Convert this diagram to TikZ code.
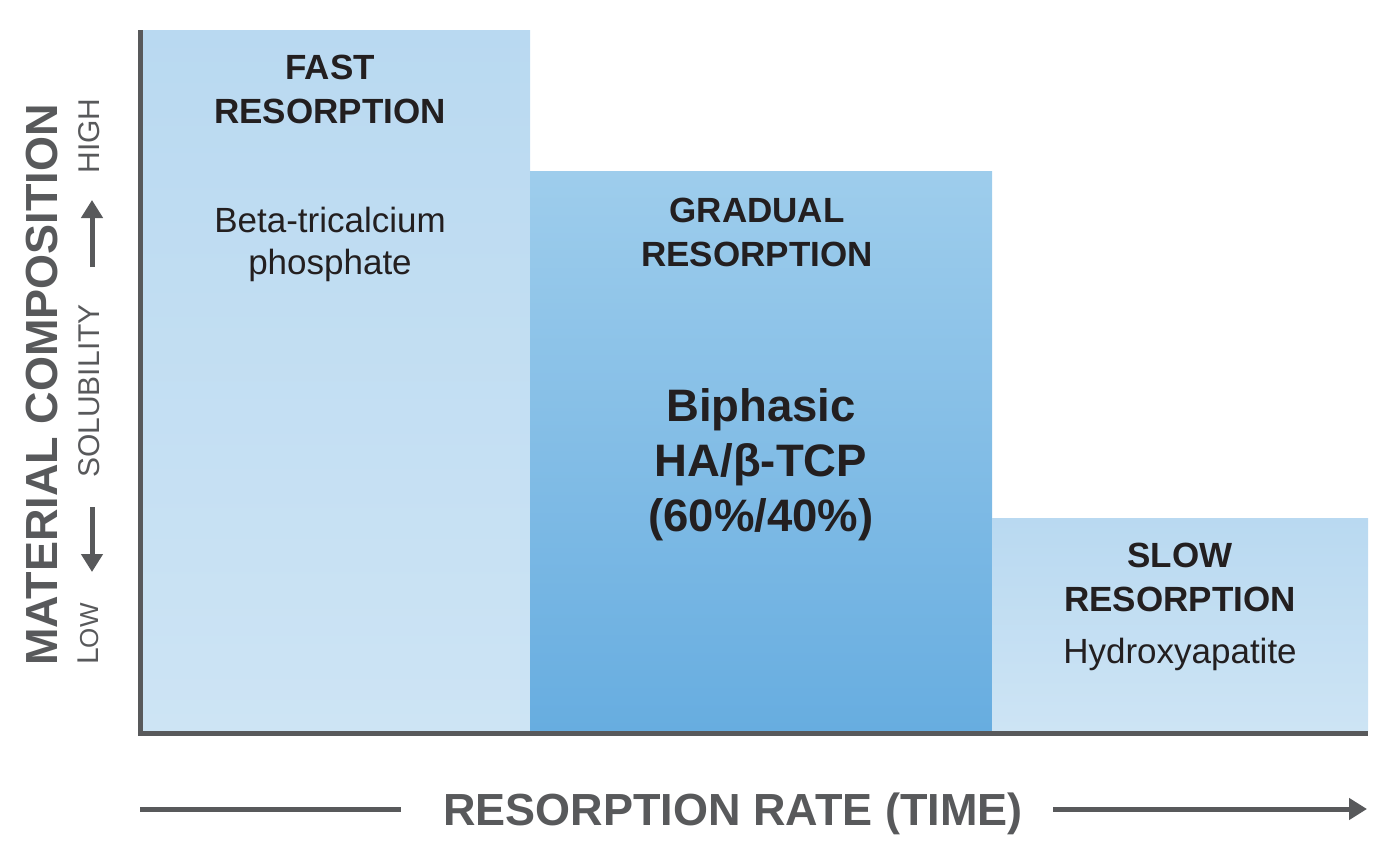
\documentclass[tikz,border=0pt]{standalone}
\usepackage{fontspec}
\setmainfont{Liberation Sans}
\usepackage{tikz}
\usetikzlibrary{arrows.meta}
\definecolor{axisgray}{HTML}{58595B}
\definecolor{inkblack}{HTML}{231F20}
\definecolor{fasttop}{HTML}{B9D9F1}
\definecolor{fastbot}{HTML}{CDE4F4}
\definecolor{gradtop}{HTML}{9ECDEC}
\definecolor{gradbot}{HTML}{67ADE0}
\tikzset{
% Text styles for the three resorption blocks
head text/.style={anchor=north,inner sep=0,align=center,text=inkblack,
  font=\fontsize{17.5}{22}\selectfont\bfseries},
body text/.style={anchor=north,inner sep=0,align=center,text=inkblack,
  font=\fontsize{17.5}{21}\selectfont},
big text/.style={anchor=north,inner sep=0,align=center,text=inkblack,
  font=\fontsize{22.75}{27.5}\selectfont\bfseries},
% Axis styles
axis title/.style={anchor=base,inner sep=0,text=axisgray,
  font=\fontsize{22.5}{27}\selectfont\bfseries},
axis note/.style={anchor=base,inner sep=0,text=axisgray,rotate=90,
  font=\fontsize{15}{18}\selectfont},
axis line/.style={draw=axisgray,line width=2.5pt},
axis arrow/.style={draw=axisgray,line width=2.5pt,
  -{Triangle[length=9pt,width=10.5pt]}}
}

\begin{document}
\begin{tikzpicture}[x=0.5pt,y=-0.5pt]
        \useasboundingbox (0,0) rectangle (1399,851);
        % The blocks
        \shade[top color=fasttop,bottom color=fastbot] (143,30) rectangle (530,731);
        \shade[top color=gradtop,bottom color=gradbot] (530,171) rectangle (992,731);
        \shade[top color=fasttop,bottom color=fastbot] (992,518) rectangle (1368,731);
        % Axes
        \draw[axis line] (140,30) -- (140,733) -- (1368,733);
        % Block texts
        \node(fast)[head text] at (330,55) {FAST\\RESORPTION};
        \node(beta)[body text] at (330,207) {Beta-tricalcium\\phosphate};
        \node(gradual)[head text] at (757,198) {GRADUAL\\RESORPTION};
        \node(biphasic)[big text] at (761,388) {Biphasic\\HA/β-TCP\\(60\%/40\%)};
        \node(slow)[head text] at (1180,543) {SLOW\\RESORPTION};
        \node(hydroxy)[body text] at (1180,638) {Hydroxyapatite};
        % Vertical axis labels
        \node(material)[axis title,rotate=90] at (57,385) {MATERIAL COMPOSITION};
        \node(high)[axis note] at (99,136) {HIGH};
        \node(solub)[axis note] at (99,391) {SOLUBILITY};
        \node(low)[axis note] at (98,634) {L{\fontsize{13}{16}\selectfont OW}};
        \coordinate (up tail) at (92,267);
        \coordinate (up tip) at (92,200);
        \coordinate (down tail) at (92,507);
        \coordinate (down tip) at (92,572);
        \draw[axis arrow] (up tail) -- (up tip);
        \draw[axis arrow] (down tail) -- (down tip);
        % Horizontal axis label
        \node(rate)[axis title] at (733,825) {RESORPTION RATE (TIME)};
        \coordinate (rate start) at (140,809);
        \coordinate (rate gap) at (401,809);
        \coordinate (rate tail) at (1053,809);
        \coordinate (rate tip) at (1367,809);
        \draw[axis line] (rate start) -- (rate gap);
        \draw[axis arrow] (rate tail) -- (rate tip);
\end{tikzpicture}
\end{document}
